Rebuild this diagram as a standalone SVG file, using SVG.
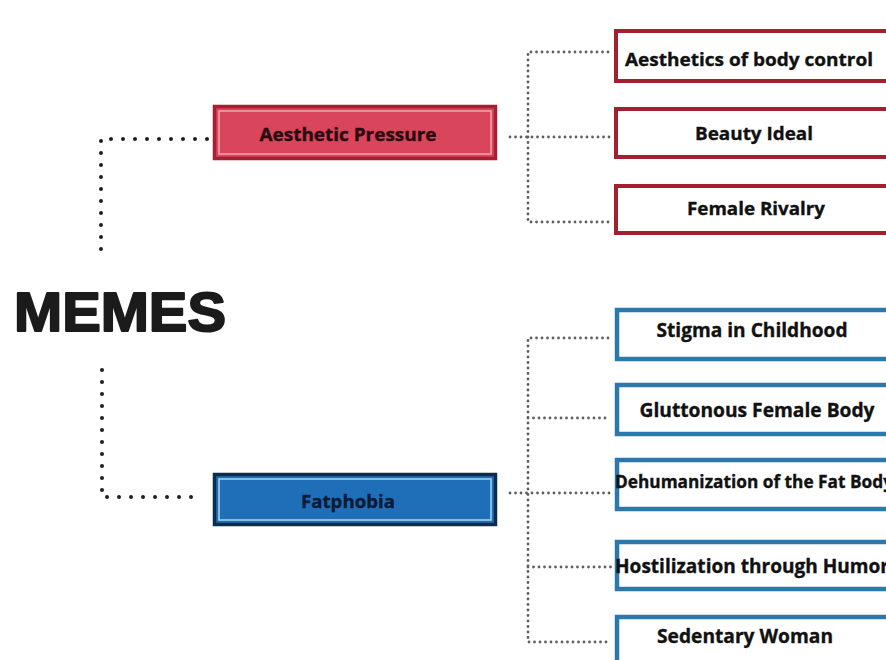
<svg xmlns="http://www.w3.org/2000/svg" width="886" height="660" viewBox="0 0 886 660">
<style>
.main{fill:none;stroke:#1e1e1e;stroke-width:4;stroke-linecap:round;stroke-dasharray:0 12}
.sub{fill:none;stroke:#5e5e5e;stroke-width:2.8;stroke-linecap:round;stroke-dasharray:0 5.5}
.t{font-family:"Open Sans","Noto Sans","Liberation Sans",sans-serif;font-weight:bold;fill:#111;text-anchor:middle;stroke:#111;stroke-width:0.35}
.rb{fill:#fff;stroke:#a3202f;stroke-width:4}
.bb{fill:#fff;stroke:#2b78ad;stroke-width:4.5}
</style>
<rect width="886" height="660" fill="#fff"/>
<g id="connectors">
<path class="main" d="M207 139 H101 V257"/>
<path class="main" d="M102 370 V497 H197"/>
<path class="sub" d="M608 52 H528 V222 H610 M510 137 H610"/>
<path class="sub" d="M608 338 H528 V642 H610 M528 418 H610 M510 493 H612 M528 567 H615"/>
</g>
<g id="memes"><text x="14" y="331" style="font-family:'Liberation Sans',Arial,sans-serif;font-weight:bold;font-size:56px;fill:#1b1b1b;stroke:#1b1b1b;stroke-width:2;stroke-linejoin:round" textLength="212" lengthAdjust="spacingAndGlyphs">MEMES</text></g>
<g id="aesthetic-pressure">
<rect x="214.5" y="106.5" width="281" height="52" fill="#d9455a" stroke="#a81e32" stroke-width="3.5"/>
<rect x="219" y="111" width="272" height="43" fill="none" stroke="#f2a6b0" stroke-width="1.5"/>
<text class="t" x="348" y="141" style="font-size:18px;fill:#2a0a10;stroke:#2a0a10" textLength="177" lengthAdjust="spacingAndGlyphs">Aesthetic Pressure</text>
</g>
<g id="fatphobia">
<rect x="214.5" y="474.5" width="281" height="50" fill="#1f6fb8" stroke="#0f2c4d" stroke-width="3.5"/>
<rect x="219" y="479" width="272" height="41" fill="none" stroke="#a8d6f2" stroke-width="1.5"/>
<text class="t" x="348" y="508" style="font-size:17px;fill:#0b1a36;stroke:#0b1a36" textLength="94" lengthAdjust="spacingAndGlyphs">Fatphobia</text>
</g>
<g id="aesthetics-body-control"><rect class="rb" x="616" y="31" width="280" height="50"/><text class="t" x="749" y="66" style="font-size:18.5px" textLength="248" lengthAdjust="spacingAndGlyphs">Aesthetics of body control</text></g>
<g id="beauty-ideal"><rect class="rb" x="616" y="109" width="280" height="48"/><text class="t" x="754" y="140" style="font-size:18.5px" textLength="118" lengthAdjust="spacingAndGlyphs">Beauty Ideal</text></g>
<g id="female-rivalry"><rect class="rb" x="616" y="186" width="280" height="47"/><text class="t" x="756" y="215" style="font-size:18.5px" textLength="138" lengthAdjust="spacingAndGlyphs">Female Rivalry</text></g>
<g id="stigma-childhood"><rect class="bb" x="617" y="310" width="280" height="49"/><text class="t" x="752" y="337" style="font-size:19px" textLength="191" lengthAdjust="spacingAndGlyphs">Stigma in Childhood</text></g>
<g id="gluttonous-female-body"><rect class="bb" x="617" y="385" width="280" height="49"/><text class="t" x="757" y="417" style="font-size:19px" textLength="235" lengthAdjust="spacingAndGlyphs">Gluttonous Female Body</text></g>
<g id="dehumanization"><rect class="bb" x="617" y="460" width="280" height="49"/><text class="t" x="754" y="488" style="font-size:17px" textLength="278" lengthAdjust="spacingAndGlyphs">Dehumanization of the Fat Body</text></g>
<g id="hostilization"><rect class="bb" x="617" y="542" width="280" height="47"/><text class="t" x="752" y="573" style="font-size:19px" textLength="274" lengthAdjust="spacingAndGlyphs">Hostilization through Humor</text></g>
<g id="sedentary-woman"><rect class="bb" x="617" y="617" width="280" height="52"/><text class="t" x="745" y="643" style="font-size:19px" textLength="176" lengthAdjust="spacingAndGlyphs">Sedentary Woman</text></g>
</svg>
